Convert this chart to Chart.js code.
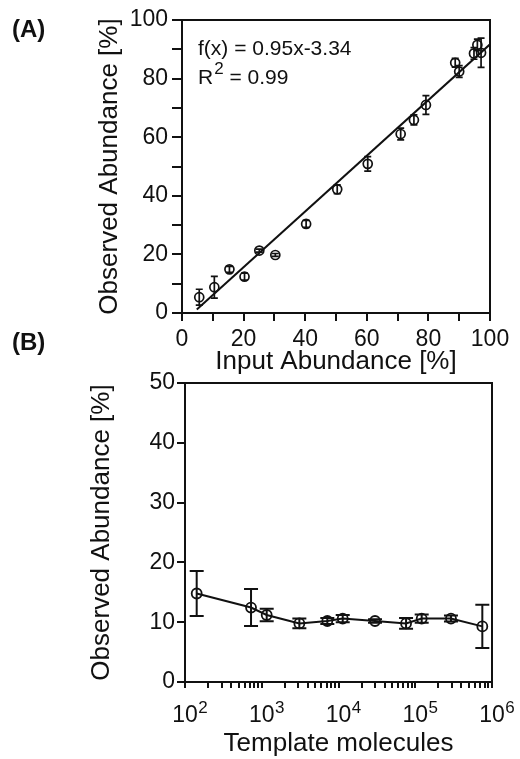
<!DOCTYPE html>
<html>
<head>
<meta charset="utf-8">
<script src="https://cdn.jsdelivr.net/npm/chart.js@4.4.1/dist/chart.umd.min.js"></script>
<style>
  body { margin: 0; background: #fff; }
  #wrapA { position: absolute; left: 0; top: 0; }
  #wrapB { position: absolute; left: 0; top: 320px; }
</style>
</head>
<body>
<div id="wrapA"><canvas id="chartA" width="520" height="385"></canvas></div>
<div id="wrapB"><canvas id="chartB" width="520" height="439"></canvas></div>
<script>
// Panel A data
const inputAbundance = [5.6, 10.5, 15.4, 20.3, 25.1, 30.3, 40.3, 50.4, 60.3, 71.0, 75.3, 79.2, 88.7, 90.0, 94.8, 95.9, 97.1];
const observedA = [5.4, 8.8, 14.9, 12.4, 21.3, 19.8, 30.4, 42.2, 50.9, 61.1, 65.9, 71.0, 85.4, 82.4, 88.6, 91.5, 88.8];
const errA = [2.7, 3.7, 1.0, 1.2, 0.5, 0.5, 1.2, 1.5, 2.5, 2.0, 1.7, 3.2, 1.5, 2.0, 2.0, 2.0, 5.0];
// fit line end points
const fitX = [4.8, 100];
const fitY = [1.2, 91.7];

// Panel B data
const templateMolecules = [142, 725, 1160, 3090, 7150, 11350, 29900, 75900, 121300, 292000, 748000];
const observedB = [14.8, 12.45, 11.2, 9.8, 10.2, 10.6, 10.2, 9.8, 10.6, 10.6, 9.3];
const errB = [3.75, 3.1, 1.05, 0.8, 0.5, 0.6, 0.3, 0.9, 0.7, 0.5, 3.6];
const logExponents = [2, 3, 4, 5, 6];

const INK = '#111';
const FONT = "'Liberation Sans', Arial, Helvetica, sans-serif";
Chart.defaults.font.family = FONT;
Chart.defaults.color = INK;

// vertical error bars with caps
const errorBars = {
  id: 'errorBars',
  afterDatasetsDraw(chart, args, opts) {
    const { ctx, scales: { x, y } } = chart;
    const ds = chart.data.datasets[opts.datasetIndex];
    ctx.save();
    ctx.strokeStyle = INK;
    ctx.lineWidth = opts.lineWidth;
    ds.data.forEach((p, i) => {
      const px = x.getPixelForValue(p.x);
      const top = y.getPixelForValue(p.y + opts.err[i]);
      const bot = y.getPixelForValue(p.y - opts.err[i]);
      ctx.beginPath();
      ctx.moveTo(px, top); ctx.lineTo(px, bot);
      ctx.moveTo(px - opts.cap, top); ctx.lineTo(px + opts.cap, top);
      ctx.moveTo(px - opts.cap, bot); ctx.lineTo(px + opts.cap, bot);
      ctx.stroke();
    });
    ctx.restore();
  }
};

// top and right border of the plot box, panel letter, extra text
const frame = {
  id: 'frame',
  afterDraw(chart, args, opts) {
    const { ctx, chartArea: a } = chart;
    ctx.save();
    ctx.strokeStyle = INK;
    ctx.lineWidth = 2;
    ctx.beginPath();
    ctx.moveTo(a.left, a.top);
    ctx.lineTo(a.right, a.top);
    ctx.lineTo(a.right, a.bottom);
    ctx.stroke();
    ctx.fillStyle = INK;
    ctx.textBaseline = 'alphabetic';
    ctx.textAlign = 'left';
    ctx.font = 'bold 24px ' + FONT;
    ctx.fillText(opts.letter, 12, opts.letterY);
    if (opts.extra) opts.extra(ctx, chart);
    ctx.restore();
  }
};

function axisGrid(len) {
  return { drawOnChartArea: false, drawTicks: true, tickLength: len, color: INK, lineWidth: 2 };
}

new Chart(document.getElementById('chartA'), {
  type: 'scatter',
  data: {
    datasets: [{
      data: inputAbundance.map((x, i) => ({ x: x, y: observedA[i] })),
      pointRadius: 4.5,
      pointBorderWidth: 1.7,
      borderColor: INK,
      backgroundColor: 'rgba(0,0,0,0)'
    }, {
      data: fitX.map((x, i) => ({ x: x, y: fitY[i] })),
      showLine: true,
      pointRadius: 0,
      borderColor: INK,
      borderWidth: 2
    }]
  },
  options: {
    responsive: false,
    animation: false,
    layout: { padding: { top: 20, right: 30, left: 0, bottom: 0 } },
    plugins: {
      legend: { display: false },
      tooltip: { enabled: false },
      errorBars: { datasetIndex: 0, err: errA, cap: 3.5, lineWidth: 1.7 },
      frame: {
        letter: '(A)', letterY: 37,
        extra(ctx) {
          ctx.font = '21px ' + FONT;
          ctx.fillText('f(x) = 0.95x-3.34', 198, 55);
          ctx.fillText('R', 198, 84);
          let w = ctx.measureText('R').width;
          ctx.font = '17px ' + FONT;
          ctx.fillText('2', 198 + w + 1, 74);
          const w2 = ctx.measureText('2').width;
          ctx.font = '21px ' + FONT;
          ctx.fillText(' = 0.99', 198 + w + w2 + 1, 84);
        }
      }
    },
    scales: {
      x: {
        type: 'linear', min: 0, max: 100,
        afterFit(s) { s.height = 72; },
        grid: axisGrid(8),
        border: { color: INK, width: 2 },
        ticks: { stepSize: 10, autoSkip: false, maxRotation: 0, padding: 5, font: { size: 23 },
          callback: v => (v % 20 === 0 ? v : '') },
        title: { display: true, text: 'Input Abundance [%]', font: { size: 26 }, padding: { top: 0, bottom: 8 } }
      },
      y: {
        min: 0, max: 100,
        afterFit(s) { s.width = 182; },
        grid: axisGrid(10),
        border: { color: INK, width: 2 },
        ticks: { stepSize: 10, autoSkip: false, padding: 4, font: { size: 23 },
          callback: v => (v % 20 === 0 ? v : '') },
        title: { display: true, text: 'Observed Abundance [%]', font: { size: 26 }, padding: { top: 94, bottom: 0 } }
      }
    }
  },
  plugins: [errorBars, frame]
});

new Chart(document.getElementById('chartB'), {
  type: 'scatter',
  data: {
    datasets: [{
      data: templateMolecules.map((x, i) => ({ x: x, y: observedB[i] })),
      showLine: true,
      borderColor: INK,
      borderWidth: 2,
      pointRadius: 5,
      pointBorderWidth: 1.8,
      pointBorderColor: INK,
      pointBackgroundColor: 'rgba(0,0,0,0)'
    }]
  },
  options: {
    responsive: false,
    animation: false,
    layout: { padding: { top: 63, right: 28, left: 0, bottom: 0 } },
    plugins: {
      legend: { display: false },
      tooltip: { enabled: false },
      errorBars: { datasetIndex: 0, err: errB, cap: 7, lineWidth: 2 },
      frame: {
        letter: '(B)', letterY: 30,
        extra(ctx, chart) {
          const sx = chart.scales.x;
          const base = chart.chartArea.bottom + 40;
          logExponents.forEach(e => {
            const px = sx.getPixelForValue(Math.pow(10, e));
            ctx.font = '23px ' + FONT;
            ctx.textAlign = 'center';
            ctx.fillText('10', px, base);
            const w = ctx.measureText('10').width;
            ctx.font = '17px ' + FONT;
            ctx.textAlign = 'left';
            ctx.fillText(String(e), px + w / 2 + 0.5, base - 9);
          });
        }
      }
    },
    scales: {
      x: {
        type: 'logarithmic', min: 100, max: 1e6,
        afterFit(s) { s.height = 77; },
        afterBuildTicks(s) {
          const t = [];
          for (let e = 2; e < 6; e++) for (let m = 1; m < 10; m++) t.push({ value: m * Math.pow(10, e) });
          t.push({ value: 1e6 });
          s.ticks = t;
        },
        grid: axisGrid(6),
        border: { color: INK, width: 2 },
        ticks: { autoSkip: false, maxRotation: 0, callback: () => '' },
        title: { display: true, text: 'Template molecules', font: { size: 26 }, padding: { top: 0, bottom: 0 } }
      },
      y: {
        min: 0, max: 50,
        afterFit(s) { s.width = 185; },
        grid: axisGrid(8),
        border: { color: INK, width: 2 },
        ticks: { stepSize: 10, autoSkip: false, padding: 2, font: { size: 23 } },
        title: { display: true, text: 'Observed Abundance [%]', font: { size: 26 }, padding: { top: 86, bottom: 0 } }
      }
    }
  },
  plugins: [errorBars, frame]
});
</script>
</body>
</html>
